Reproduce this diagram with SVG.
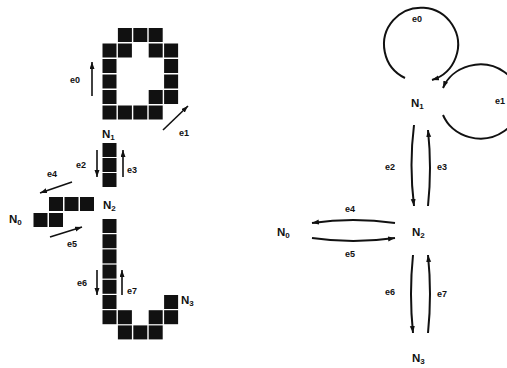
<svg xmlns="http://www.w3.org/2000/svg" width="507" height="368" viewBox="0 0 507 368">
<defs>
<style>
.px{fill:#111}
.ln{fill:none;stroke:#111;stroke-width:1.6}
.ed{fill:none;stroke:#111;stroke-width:2}
.lb{font-family:"Liberation Sans",Arial,sans-serif;font-weight:bold;font-size:9px;fill:#111}
.nd{font-family:"Liberation Sans",Arial,sans-serif;font-weight:bold;font-size:11.5px;fill:#111}
.sb{font-size:8px}
</style>
<marker id="ah" markerWidth="8" markerHeight="6" refX="7" refY="2.5" orient="auto" markerUnits="userSpaceOnUse">
<path d="M0,0 L7,2.5 L0,5 z" fill="#111"/>
</marker>
</defs>
<rect width="507" height="368" fill="#fff"/>

<!-- Left: pixel picture -->
<g id="left-pixels">
<g id="px-N1">
<rect class="px" x="117.9" y="28" width="14" height="14"/>
<rect class="px" x="133.3" y="28" width="14" height="14"/>
<rect class="px" x="148.7" y="28" width="14" height="14"/>
<rect class="px" x="102.5" y="43.5" width="14" height="14"/>
<rect class="px" x="117.9" y="43.5" width="14" height="14"/>
<rect class="px" x="148.7" y="43.5" width="14" height="14"/>
<rect class="px" x="164.1" y="43.5" width="14" height="14"/>
<rect class="px" x="102.5" y="59" width="14" height="14"/>
<rect class="px" x="164.1" y="59" width="14" height="14"/>
<rect class="px" x="102.5" y="74.5" width="14" height="14"/>
<rect class="px" x="164.1" y="74.5" width="14" height="14"/>
<rect class="px" x="102.5" y="90" width="14" height="14"/>
<rect class="px" x="148.7" y="90" width="14" height="14"/>
<rect class="px" x="164.1" y="90" width="14" height="14"/>
<rect class="px" x="102.5" y="105.5" width="14" height="14"/>
<rect class="px" x="117.9" y="105.5" width="14" height="14"/>
<rect class="px" x="133.3" y="105.5" width="14" height="14"/>
<rect class="px" x="148.7" y="105.5" width="14" height="14"/>
<text class="nd" x="102" y="138">N<tspan class="sb" dy="2">1</tspan></text>
</g>
<g id="px-N1N2">
<rect class="px" x="102.5" y="143" width="14" height="14"/>
<rect class="px" x="102.5" y="158" width="14" height="14"/>
<rect class="px" x="102.5" y="173" width="14" height="14"/>
</g>
<g id="px-N2">
<rect class="px" x="49" y="197" width="14" height="14"/>
<rect class="px" x="64.5" y="197" width="14" height="14"/>
<rect class="px" x="80" y="197" width="14" height="14"/>
<text class="nd" x="103" y="209">N<tspan class="sb" dy="2">2</tspan></text>
</g>
<g id="px-N0">
<rect class="px" x="33.5" y="213" width="14" height="14"/>
<rect class="px" x="49" y="213" width="14" height="14"/>
<text class="nd" x="9" y="223">N<tspan class="sb" dy="2">0</tspan></text>
</g>
<g id="px-N2N3">
<rect class="px" x="102.5" y="219" width="14" height="14"/>
<rect class="px" x="102.5" y="234.2" width="14" height="14"/>
<rect class="px" x="102.5" y="249.4" width="14" height="14"/>
<rect class="px" x="102.5" y="264.6" width="14" height="14"/>
<rect class="px" x="102.5" y="279.8" width="14" height="14"/>
<rect class="px" x="102.5" y="295" width="14" height="14"/>
<rect class="px" x="102.5" y="310.2" width="14" height="14"/>
<rect class="px" x="117.9" y="310.2" width="14" height="14"/>
<rect class="px" x="148.7" y="310.2" width="14" height="14"/>
<rect class="px" x="164.1" y="310.2" width="14" height="14"/>
<rect class="px" x="117.9" y="325.4" width="14" height="14"/>
<rect class="px" x="133.3" y="325.4" width="14" height="14"/>
<rect class="px" x="148.7" y="325.4" width="14" height="14"/>
</g>
<g id="px-N3">
<rect class="px" x="164.1" y="295" width="14" height="14"/>
<text class="nd" x="181" y="304">N<tspan class="sb" dy="2">3</tspan></text>
</g>
</g>

<g id="left-arrows">
<path class="ln" d="M92,96 L92,62" marker-end="url(#ah)"/>
<path class="ln" d="M163,130 L188,106" marker-end="url(#ah)"/>
<path class="ln" d="M97,150 L97,177" marker-end="url(#ah)"/>
<path class="ln" d="M123,177 L123,150" marker-end="url(#ah)"/>
<path class="ln" d="M72,182 L40,193" marker-end="url(#ah)"/>
<path class="ln" d="M50,237 L82,227" marker-end="url(#ah)"/>
<path class="ln" d="M97,270 L97,295" marker-end="url(#ah)"/>
<path class="ln" d="M122,295 L122,270" marker-end="url(#ah)"/>
</g>
<g id="left-labels">
<text class="lb" x="70" y="83">e0</text>
<text class="lb" x="179" y="136">e1</text>
<text class="lb" x="76" y="168">e2</text>
<text class="lb" x="127" y="173">e3</text>
<text class="lb" x="47" y="177">e4</text>
<text class="lb" x="67" y="247">e5</text>
<text class="lb" x="77" y="286">e6</text>
<text class="lb" x="127" y="294">e7</text>
</g>

<!-- Right: graph -->
<g id="N0"><text class="nd" x="277" y="236">N<tspan class="sb" dy="2">0</tspan></text></g>
<g id="N1"><text class="nd" x="411" y="107">N<tspan class="sb" dy="2">1</tspan></text></g>
<g id="N2"><text class="nd" x="412" y="236">N<tspan class="sb" dy="2">2</tspan></text></g>
<g id="N3"><text class="nd" x="412" y="362">N<tspan class="sb" dy="2">3</tspan></text></g>

<g id="connectors">
<path class="ed" d="M405,78 A37,37 0 1 1 432,80" marker-end="url(#ah)"/>
<path class="ed" d="M443,115 A40,37 0 1 0 443,88" marker-end="url(#ah)"/>
<path class="ed" d="M414,125 Q409,165 414,206" marker-end="url(#ah)"/>
<path class="ed" d="M428,206 Q432,168 428,130" marker-end="url(#ah)"/>
<path class="ed" d="M395,223 Q353,217 312,223" marker-end="url(#ah)"/>
<path class="ed" d="M312,238 Q353,244 395,238" marker-end="url(#ah)"/>
<path class="ed" d="M413,255 Q409,294 413,333" marker-end="url(#ah)"/>
<path class="ed" d="M428,333 Q432,294 428,255" marker-end="url(#ah)"/>
</g>
<g id="edge-labels">
<text class="lb" x="412" y="22">e0</text>
<text class="lb" x="495" y="104">e1</text>
<text class="lb" x="385" y="170">e2</text>
<text class="lb" x="437" y="170">e3</text>
<text class="lb" x="345" y="212">e4</text>
<text class="lb" x="345" y="257">e5</text>
<text class="lb" x="385" y="295">e6</text>
<text class="lb" x="437" y="297">e7</text>
</g>
</svg>
